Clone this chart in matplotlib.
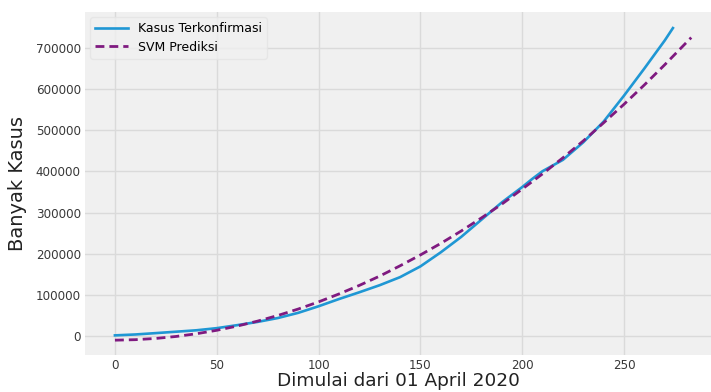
import numpy as np
import matplotlib.pyplot as plt

# kasus terkonfirmasi kumulatif, hari ke-n sejak 01 April 2020
hari = [0, 10, 20, 30, 40, 50, 60, 70, 80, 90, 100, 110, 120, 130, 140, 150,
        160, 170, 180, 190, 200, 205, 210, 220, 230, 240, 250, 260, 270, 274]
kasus = [1677, 3842, 7135, 10551, 14032, 19189, 26473, 34316, 43803, 56385,
         72347, 89869, 106336, 123503, 143043, 169195, 203342, 240687, 282724,
         324658, 361867, 381910, 400483, 428000, 470648, 521000, 584000,
         650000, 718000, 748000]

# hasil prediksi SVM
hari_pred = [0, 10, 20, 30, 40, 50, 60, 70, 80, 90, 100, 110, 120, 130, 140,
             150, 160, 170, 180, 190, 200, 210, 220, 230, 240, 250, 260, 270,
             283]
prediksi = [-10000, -8800, -5800, -1000, 5600, 14000, 24200, 36200, 50000,
            65600, 83000, 102200, 123000, 145600, 170600, 197000, 225000,
            255000, 287000, 320500, 357000, 394000, 433000, 474000, 518000,
            563000, 610000, 659000, 725000]

plt.rcParams['font.family'] = 'DejaVu Sans'

fig = plt.figure(figsize=(7.11, 3.92), dpi=100, facecolor='white')
ax = fig.add_axes([85 / 711, 37 / 392, 626 / 711, 343 / 392])
ax.set_facecolor('#f0f0f0')
for s in ax.spines.values():
    s.set_visible(False)
ax.grid(True, color='#dadada', linewidth=1.0)
ax.set_axisbelow(True)

ax.plot(hari, kasus, color='#1f97d4', linewidth=1.9, label='Kasus Terkonfirmasi')
ax.plot(hari_pred, prediksi, color='#7f1a80', linewidth=2.0,
        linestyle=(0, (3.2, 1.8)), label='SVM Prediksi')

ax.set_xlim(-14.7, 292.7)
ax.set_ylim(-46000, 787000)
ax.set_xticks([0, 50, 100, 150, 200, 250])
ax.set_yticks(np.arange(0, 700001, 100000))
ax.tick_params(axis='both', length=0, labelsize=8.6, colors='#383838')
ax.tick_params(axis='y', pad=3)
ax.tick_params(axis='x', pad=3)

ax.set_xlabel('Dimulai dari 01 April 2020', fontsize=13.3, color='#222222',
              labelpad=0)
ax.set_ylabel('Banyak Kasus', fontsize=14, color='#222222', labelpad=6)

leg = ax.legend(loc='upper left', fontsize=9, frameon=True, handlelength=2.6,
                borderaxespad=0.4, labelspacing=0.45)
leg.get_frame().set_facecolor('#f0f0f0')
leg.get_frame().set_edgecolor('#e4e4e4')

fig.savefig('out.png', dpi=100, facecolor='white')
